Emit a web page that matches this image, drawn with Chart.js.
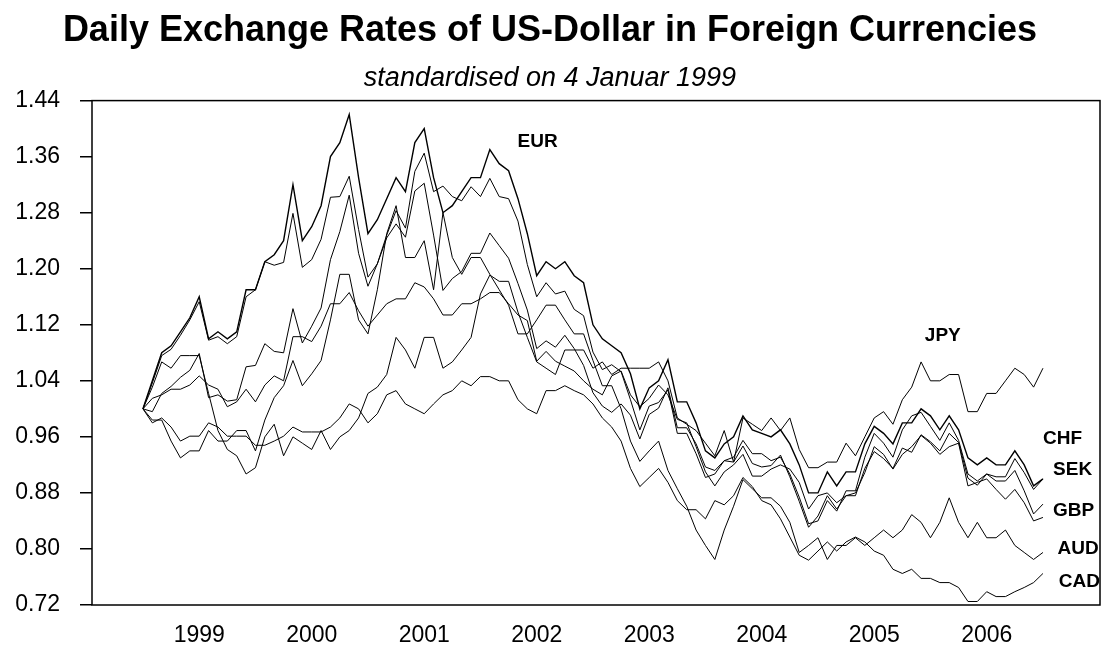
<!DOCTYPE html>
<html>
<head>
<meta charset="utf-8">
<script src="https://cdn.jsdelivr.net/npm/chart.js@4.4.1/dist/chart.umd.min.js"></script>
<style>
  html, body { margin: 0; padding: 0; background: #fff; }
  #wrap { width: 1103px; height: 648px; }
</style>
</head>
<body>
<div id="wrap"><canvas id="fxChart"></canvas></div>
<script>
// monthly readings, first value = 4 Jan 1999, last = Jan 2007
const eur = [
  1.00, 1.04, 1.08, 1.09, 1.11, 1.13, 1.16, 1.10, 1.11, 1.10, 1.11, 1.17,
  1.17, 1.21, 1.22, 1.24, 1.32, 1.24, 1.26, 1.29, 1.36, 1.38, 1.42, 1.33,
  1.25, 1.27, 1.30, 1.33, 1.31, 1.38, 1.40, 1.33, 1.28, 1.29, 1.31, 1.33,
  1.33, 1.37, 1.35, 1.34, 1.30, 1.25, 1.19, 1.21, 1.20, 1.21, 1.19, 1.18,
  1.12, 1.10, 1.09, 1.08, 1.05, 1.00, 1.03, 1.04, 1.07, 1.01, 1.01, 0.98,
  0.94, 0.93, 0.95, 0.96, 0.99, 0.97, 0.965, 0.96, 0.97, 0.95, 0.92, 0.88,
  0.88, 0.91, 0.89, 0.91, 0.91, 0.95, 0.975, 0.965, 0.95, 0.98, 0.98, 1.00,
  0.99, 0.97, 0.99, 0.97, 0.93, 0.92, 0.93, 0.92, 0.92, 0.94, 0.92, 0.89,
  0.90
];
const jpy = [
  1.00, 1.031, 1.067, 1.058, 1.076, 1.076, 1.076, 1.022, 0.969, 0.942, 0.933, 0.907,
  0.916, 0.96, 0.978, 0.933, 0.96, 0.951, 0.942, 0.969, 0.942, 0.96, 0.969, 0.987,
  1.022, 1.031, 1.049, 1.102, 1.084, 1.058, 1.102, 1.102, 1.058, 1.067, 1.084, 1.102,
  1.164, 1.191, 1.182, 1.182, 1.138, 1.102, 1.067, 1.058, 1.049, 1.084, 1.084, 1.084,
  1.058, 1.067, 1.049, 1.058, 1.058, 1.058, 1.058, 1.067, 1.04, 0.987, 0.978, 0.969,
  0.951, 0.933, 0.969, 0.924, 0.987, 0.978, 0.969, 0.987, 0.969, 0.987, 0.942, 0.916,
  0.916, 0.924, 0.924, 0.951, 0.933, 0.96, 0.987, 0.996, 0.978, 1.013, 1.031, 1.067,
  1.04, 1.04, 1.049, 1.049, 0.996, 0.996, 1.022, 1.022, 1.04, 1.058, 1.049, 1.031,
  1.058
];
const chf = [
  1.00, 1.037, 1.076, 1.085, 1.105, 1.127, 1.153, 1.098, 1.103, 1.093, 1.103, 1.16,
  1.17, 1.21, 1.205, 1.209, 1.279, 1.202, 1.213, 1.242, 1.302, 1.303, 1.332, 1.256,
  1.188, 1.207, 1.244, 1.264, 1.245, 1.311, 1.322, 1.248, 1.169, 1.186, 1.196, 1.222,
  1.222, 1.251, 1.233, 1.215, 1.179, 1.141, 1.086, 1.097, 1.088, 1.105, 1.086, 1.062,
  1.023, 1.004, 0.995, 1.007, 0.991, 0.957, 0.992, 1.001, 1.03, 0.973, 0.973, 0.95,
  0.917, 0.912, 0.926, 0.924, 0.947, 0.922, 0.917, 0.919, 0.934, 0.903, 0.868, 0.831,
  0.847, 0.876, 0.857, 0.876, 0.876, 0.915, 0.939, 0.929, 0.915, 0.944, 0.938, 0.963,
  0.953, 0.94, 0.965, 0.952, 0.901, 0.891, 0.907, 0.903, 0.903, 0.929, 0.909, 0.885,
  0.90
];
const sek = [
  1.00, 0.996, 1.022, 1.032, 1.045, 1.055, 1.079, 1.016, 1.02, 1.011, 1.013, 1.06,
  1.062, 1.093, 1.082, 1.08, 1.143, 1.094, 1.118, 1.144, 1.213, 1.253, 1.305, 1.222,
  1.175, 1.207, 1.248, 1.283, 1.258, 1.339, 1.365, 1.31, 1.318, 1.303, 1.297, 1.317,
  1.303, 1.329, 1.303, 1.30, 1.268, 1.206, 1.16, 1.18, 1.164, 1.168, 1.142, 1.133,
  1.081, 1.056, 1.063, 1.053, 1.013, 0.97, 1.004, 1.009, 1.027, 0.965, 0.965, 0.936,
  0.902, 0.907, 0.926, 0.931, 0.955, 0.936, 0.936, 0.926, 0.931, 0.907, 0.874, 0.836,
  0.84, 0.869, 0.854, 0.883, 0.883, 0.931, 0.965, 0.951, 0.931, 0.97, 0.99, 0.995,
  0.975, 0.955, 0.98, 0.955, 0.907, 0.897, 0.907, 0.897, 0.897, 0.912, 0.883, 0.85,
  0.864
];
const gbp = [
  1.00, 1.015, 1.02, 1.028, 1.028, 1.034, 1.047, 1.034, 1.028, 1.003, 1.01, 1.028,
  1.01, 1.034, 1.047, 1.04, 1.103, 1.103, 1.096, 1.118, 1.15, 1.15, 1.166, 1.14,
  1.118, 1.134, 1.15, 1.157, 1.157, 1.18, 1.174, 1.157, 1.134, 1.134, 1.15, 1.15,
  1.157, 1.166, 1.166, 1.15, 1.134, 1.126, 1.068, 1.082, 1.068, 1.061, 1.054, 1.04,
  1.028, 1.02, 1.047, 1.054, 1.02, 1.003, 1.015, 1.034, 1.02, 0.985, 0.98, 0.946,
  0.91, 0.89, 0.91, 0.92, 0.935, 0.904, 0.904, 0.914, 0.92, 0.914, 0.895, 0.857,
  0.876, 0.88, 0.866, 0.876, 0.88, 0.909, 0.946, 0.935, 0.914, 0.935, 0.946, 0.962,
  0.951, 0.935, 0.946, 0.951, 0.89, 0.895, 0.90, 0.885, 0.871, 0.885, 0.866, 0.84,
  0.845
];
const aud = [
  1.00, 0.984, 0.984, 0.954, 0.93, 0.94, 0.94, 0.969, 0.954, 0.954, 0.969, 0.969,
  0.94, 0.984, 1.016, 1.033, 1.069, 1.033, 1.05, 1.069, 1.127, 1.192, 1.192, 1.127,
  1.107, 1.17, 1.25, 1.29, 1.216, 1.216, 1.24, 1.17, 1.28, 1.216, 1.192, 1.216,
  1.216, 1.192, 1.17, 1.148, 1.107, 1.107, 1.127, 1.148, 1.148, 1.127, 1.107, 1.107,
  1.069, 1.033, 1.033, 1.00, 0.954, 0.925, 0.94, 0.954, 0.912, 0.886, 0.861, 0.827,
  0.805, 0.785, 0.827, 0.861, 0.899, 0.886, 0.873, 0.873, 0.861, 0.838, 0.795, 0.805,
  0.816, 0.785, 0.805, 0.805, 0.816, 0.805, 0.816, 0.827, 0.816, 0.827, 0.849, 0.838,
  0.816, 0.838, 0.873, 0.838, 0.816, 0.838, 0.816, 0.816, 0.827, 0.805, 0.795, 0.785,
  0.795
];
const cad = [
  1.00, 0.98, 0.987, 0.974, 0.954, 0.961, 0.961, 0.98, 0.974, 0.961, 0.961, 0.961,
  0.948, 0.948, 0.954, 0.961, 0.974, 0.967, 0.967, 0.967, 0.974, 0.987, 1.007, 1.00,
  0.98, 0.993, 1.02, 1.026, 1.007, 1.00, 0.993, 1.007, 1.02, 1.026, 1.04, 1.033,
  1.046, 1.046, 1.04, 1.04, 1.013, 1.00, 0.993, 1.026, 1.026, 1.033, 1.026, 1.02,
  1.007, 0.987, 0.974, 0.954, 0.915, 0.889, 0.902, 0.915, 0.895, 0.869, 0.856, 0.856,
  0.843, 0.869, 0.863, 0.876, 0.902, 0.889, 0.869, 0.863, 0.843, 0.817, 0.791, 0.784,
  0.797, 0.81, 0.797, 0.81, 0.817, 0.81, 0.797, 0.791, 0.771, 0.765, 0.771, 0.758,
  0.758, 0.752, 0.752, 0.745, 0.725, 0.725, 0.739, 0.732, 0.732, 0.739, 0.745, 0.752,
  0.765
];

const yTicks = [0.72, 0.80, 0.88, 0.96, 1.04, 1.12, 1.20, 1.28, 1.36, 1.44];
const yearLabels = [1999, 2000, 2001, 2002, 2003, 2004, 2005, 2006];

// month positions as fractional years
const dates = [];
for (let i = 0; i < eur.length; i++) dates.push(1999 + i / 12);

const series = [
  { name: 'EUR', values: eur, width: 1.4 },
  { name: 'JPY', values: jpy, width: 1 },
  { name: 'CHF', values: chf, width: 1 },
  { name: 'SEK', values: sek, width: 1 },
  { name: 'GBP', values: gbp, width: 1 },
  { name: 'AUD', values: aud, width: 1 },
  { name: 'CAD', values: cad, width: 1 }
];

// where the currency names sit (date, value)
const nameTags = [
  { text: 'EUR', x: 2002.33, y: 1.381 },
  { text: 'JPY', x: 2005.95, y: 1.105 },
  { text: 'CHF', x: 2007.0, y: 0.958 },
  { text: 'SEK', x: 2007.09, y: 0.913 },
  { text: 'GBP', x: 2007.09, y: 0.854 },
  { text: 'AUD', x: 2007.13, y: 0.800 },
  { text: 'CAD', x: 2007.14, y: 0.753 }
];

const fontFamily = '"Liberation Sans", Arial, Helvetica, sans-serif';
Chart.defaults.font.family = fontFamily;
Chart.defaults.color = '#000';

const frameAndTags = {
  id: 'frameAndTags',
  afterDatasetsDraw(chart) {
    const { ctx, chartArea, scales } = chart;
    ctx.save();
    ctx.strokeStyle = '#000';
    ctx.lineWidth = 1.5;
    ctx.strokeRect(chartArea.left, chartArea.top, chartArea.right - chartArea.left, chartArea.bottom - chartArea.top);
    ctx.fillStyle = '#000';
    ctx.font = 'bold 19px ' + fontFamily;
    ctx.textAlign = 'left';
    ctx.textBaseline = 'middle';
    nameTags.forEach(t => {
      ctx.fillText(t.text, scales.x.getPixelForValue(t.x), scales.y.getPixelForValue(t.y));
    });
    ctx.restore();
  }
};

const fxChart = new Chart(document.getElementById('fxChart'), {
  type: 'line',
  data: {
    datasets: series.map(s => ({
      label: s.name,
      data: s.values.map((v, i) => ({ x: dates[i], y: v })),
      borderColor: '#000',
      borderWidth: s.width,
      pointRadius: 0,
      tension: 0,
      fill: false
    }))
  },
  options: {
    responsive: true,
    maintainAspectRatio: false,
    animation: false,
    layout: { padding: { left: 0, right: 3, top: 0, bottom: 0 } },
    plugins: {
      legend: { display: false },
      tooltip: { enabled: false },
      title: {
        display: true,
        text: 'Daily Exchange Rates of US-Dollar in Foreign Currencies',
        font: { size: 36, weight: 'bold' },
        padding: { top: 9, bottom: 0 }
      },
      subtitle: {
        display: true,
        text: 'standardised on 4 Januar 1999',
        font: { size: 27, style: 'italic', weight: 'normal' },
        padding: { top: 10, bottom: 6 }
      }
    },
    scales: {
      x: {
        type: 'linear',
        min: 1998.547,
        max: 2007.507,
        afterBuildTicks: axis => { axis.ticks = yearLabels.map(y => ({ value: y + 0.5 })); },
        afterFit: axis => { axis.height = 43; },
        grid: { display: false, drawTicks: false },
        border: { display: false },
        ticks: {
          font: { size: 23 },
          padding: 17,
          maxRotation: 0,
          callback: v => String(Math.floor(v))
        }
      },
      y: {
        min: 0.72,
        max: 1.44,
        afterBuildTicks: axis => { axis.ticks = yTicks.map(v => ({ value: v })); },
        afterFit: axis => { axis.width = 92; },
        grid: { drawOnChartArea: false, drawTicks: true, tickLength: 12, color: '#000', lineWidth: 1.5 },
        border: { display: false },
        ticks: {
          font: { size: 23 },
          padding: 20,
          callback: v => v.toFixed(2)
        }
      }
    }
  },
  plugins: [frameAndTags]
});
</script>
</body>
</html>
